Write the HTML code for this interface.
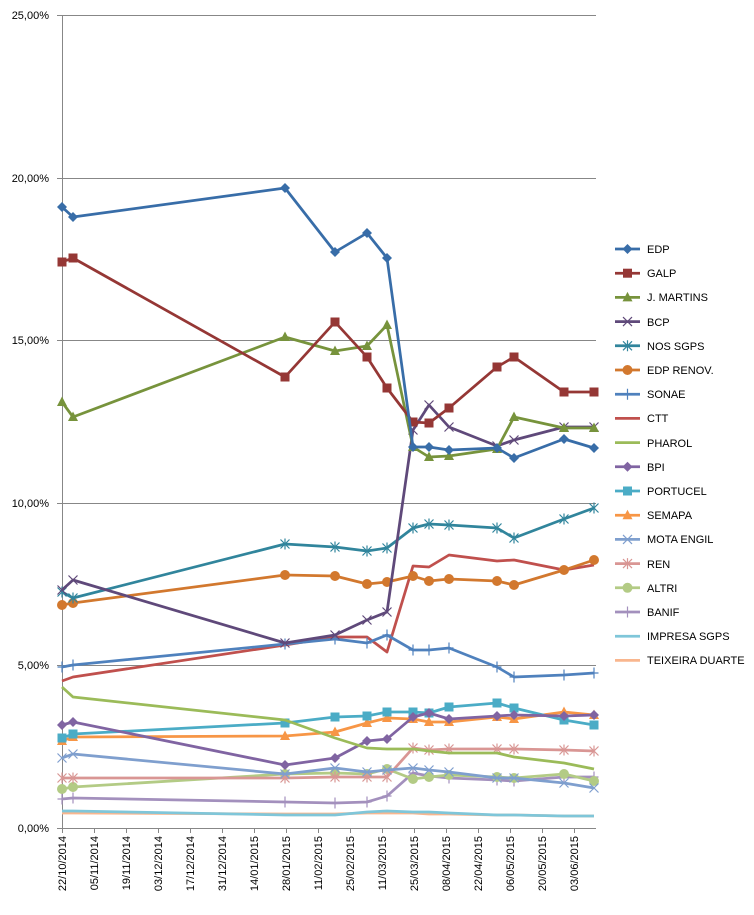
<!DOCTYPE html>
<html><head><meta charset="utf-8"><style>
body{margin:0;background:#fff;}
svg text{font-family:"Liberation Sans",sans-serif;font-size:11px;fill:#000;}
</style></head><body>
<svg id="s" width="754" height="910" xmlns="http://www.w3.org/2000/svg">
<rect x="0" y="0" width="754" height="910" fill="#fff"/>
<g stroke="#878787" stroke-width="1">
<line x1="57" y1="15.5" x2="596" y2="15.5"/>
<line x1="57" y1="178.5" x2="596" y2="178.5"/>
<line x1="57" y1="340.5" x2="596" y2="340.5"/>
<line x1="57" y1="503.5" x2="596" y2="503.5"/>
<line x1="57" y1="665.5" x2="596" y2="665.5"/>
<line x1="57" y1="828.5" x2="596" y2="828.5"/>
<line x1="62.5" y1="15" x2="62.5" y2="828"/>
</g>
<g text-anchor="end">
<text x="49" y="19">25,00%</text>
<text x="49" y="182">20,00%</text>
<text x="49" y="344">15,00%</text>
<text x="49" y="507">10,00%</text>
<text x="49" y="669">5,00%</text>
<text x="49" y="832">0,00%</text>
</g>
<g id="xt" text-anchor="end">
<text transform="translate(66,836) rotate(-90)">22/10/2014</text>
<text transform="translate(98,836) rotate(-90)">05/11/2014</text>
<text transform="translate(130,836) rotate(-90)">19/11/2014</text>
<text transform="translate(162,836) rotate(-90)">03/12/2014</text>
<text transform="translate(194,836) rotate(-90)">17/12/2014</text>
<text transform="translate(226,836) rotate(-90)">31/12/2014</text>
<text transform="translate(258,836) rotate(-90)">14/01/2015</text>
<text transform="translate(290,836) rotate(-90)">28/01/2015</text>
<text transform="translate(322,836) rotate(-90)">11/02/2015</text>
<text transform="translate(354,836) rotate(-90)">25/02/2015</text>
<text transform="translate(386,836) rotate(-90)">11/03/2015</text>
<text transform="translate(418,836) rotate(-90)">25/03/2015</text>
<text transform="translate(450,836) rotate(-90)">08/04/2015</text>
<text transform="translate(482,836) rotate(-90)">22/04/2015</text>
<text transform="translate(514,836) rotate(-90)">06/05/2015</text>
<text transform="translate(546,836) rotate(-90)">20/05/2015</text>
<text transform="translate(578,836) rotate(-90)">03/06/2015</text>
</g>
<g id="ticks" stroke="#878787"></g>
<g id="series"></g>
<g id="leg"></g>
<g>
<text x="647" y="253">EDP</text>
<text x="647" y="277">GALP</text>
<text x="647" y="301">J. MARTINS</text>
<text x="647" y="326">BCP</text>
<text x="647" y="350">NOS SGPS</text>
<text x="647" y="374">EDP RENOV.</text>
<text x="647" y="398">SONAE</text>
<text x="647" y="422">CTT</text>
<text x="647" y="447">PHAROL</text>
<text x="647" y="471">BPI</text>
<text x="647" y="495">PORTUCEL</text>
<text x="647" y="519">SEMAPA</text>
<text x="647" y="543">MOTA ENGIL</text>
<text x="647" y="568">REN</text>
<text x="647" y="592">ALTRI</text>
<text x="647" y="616">BANIF</text>
<text x="647" y="640">IMPRESA SGPS</text>
<text x="647" y="664">TEIXEIRA DUARTE</text>
</g>
</svg>
<script>
var NS="http://www.w3.org/2000/svg";
function el(p,t,a){var e=document.createElementNS(NS,t);for(var k in a)e.setAttribute(k,a[k]);p.appendChild(e);return e;}
var X=[62,73,285,335,367,387,413,429,449,497,514,564,594];
var S=[
["#386DA8","d",[207,217,188,252,233,258,447,447,450,448,458,439,448]],
["#953735","s",[262,258,377,322,357,388,422,423,408,367,357,392,392]],
["#77933C","t",[402,417,337,351,346,325,447,457,456,449,417,428,428]],
["#5F497A","x",[590,580,643,635,620,612,430,405,427,446,440,427,427]],
["#31859C","a",[592,598,544,547,551,548,528,524,525,528,538,519,508]],
["#D2782E","c",[605,603,575,576,584,582,576,581,579,581,585,570,560]],
["#4F81BD","p",[667,665,644,639,643,635,650,650,648,667,677,675,673]],
["#C0504D","n",[681,677,645,637,637,652,566,567,555,561,560,570,565]],
["#9BBB59","n",[687,697,720,738,748,749,749,751,753,753,757,763,769]],
["#8064A2","d",[725,722,765,758,741,739,717,713,719,716,715,716,715]],
["#4BACC6","s",[738,734,723,717,716,712,712,713,707,703,708,720,725]],
["#F79646","t",[741,737,736,732,723,718,719,722,722,717,719,712,715]],
["#7F9FCE","x",[758,754,774,768,772,770,768,770,772,778,778,783,788]],
["#D99694","a",[778,778,778,777,777,777,748,750,749,749,749,750,751]],
["#B3CB85","c",[789,787,774,773,774,769,779,777,775,777,778,774,781]],
["#A390BD","p",[799,798,802,803,802,796,773,776,778,780,781,777,777]],
["#7FC6D9","n",[811,811,815,815,812,811,812,812,813,815,815,816,816]],
["#F9B68E","n",[813,813,814,814,813,813,813,814,814,815,815,816,816]]
];
function mk(g,t,c,x,y){
 if(t=="d")el(g,"polygon",{points:(x)+","+(y-5)+" "+(x+5)+","+y+" "+x+","+(y+5)+" "+(x-5)+","+y,fill:c});
 else if(t=="s")el(g,"rect",{x:x-4.5,y:y-4.5,width:9,height:9,fill:c});
 else if(t=="t")el(g,"polygon",{points:x+","+(y-5.5)+" "+(x+5)+","+(y+4)+" "+(x-5)+","+(y+4),fill:c});
 else if(t=="c")el(g,"circle",{cx:x,cy:y,r:5,fill:c});
 else if(t=="x"){el(g,"path",{d:"M"+(x-4.5)+" "+(y-4.5)+"L"+(x+4.5)+" "+(y+4.5)+"M"+(x+4.5)+" "+(y-4.5)+"L"+(x-4.5)+" "+(y+4.5),stroke:c,"stroke-width":1.2,fill:"none"});}
 else if(t=="a"){el(g,"path",{d:"M"+(x-4.5)+" "+(y-4.5)+"L"+(x+4.5)+" "+(y+4.5)+"M"+(x+4.5)+" "+(y-4.5)+"L"+(x-4.5)+" "+(y+4.5)+"M"+x+" "+(y-5.5)+"L"+x+" "+(y+5.5),stroke:c,"stroke-width":1.2,fill:"none"});}
 else if(t=="p"){el(g,"path",{d:"M"+(x-4.5)+" "+y+"L"+(x+4.5)+" "+y+"M"+x+" "+(y-5.5)+"L"+x+" "+(y+5.5),stroke:c,"stroke-width":1.2,fill:"none"});}
}
var g=document.getElementById("series"),lg=document.getElementById("leg"),tk=document.getElementById("ticks");
for(var i=0;i<17;i++)el(tk,"line",{x1:62+i*32+0.5,y1:828,x2:62+i*32+0.5,y2:833});
for(var i=S.length-1;i>=0;i--){var s=S[i];var pts=[];for(var j=0;j<13;j++)pts.push(X[j]+","+s[2][j]);
 el(g,"polyline",{points:pts.join(" "),fill:"none",stroke:s[0],"stroke-width":2.75,"stroke-linejoin":"round"});
 for(var j=0;j<13;j++)mk(g,s[1],s[0],X[j],s[2][j]);
 var ly=249+i*24.2;el(lg,"line",{x1:615,y1:ly,x2:640,y2:ly,stroke:s[0],"stroke-width":2.75});mk(lg,s[1],s[0],627.5,ly);
}
</script>
</body></html>
